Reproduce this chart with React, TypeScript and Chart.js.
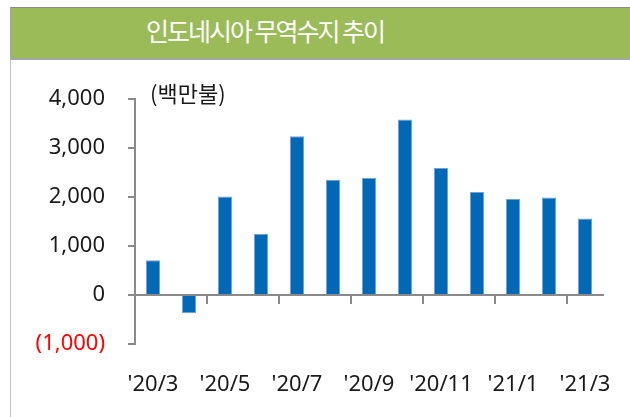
import React, { useEffect, useRef } from "react";
import { Chart, registerables } from "chart.js";

Chart.register(...registerables);

const categories = ["'20/3", "'20/4", "'20/5", "'20/6", "'20/7", "'20/8", "'20/9", "'20/10", "'20/11", "'20/12", "'21/1", "'21/2", "'21/3"];
const tradeBalance = [710, -370, 2010, 1250, 3240, 2350, 2390, 3580, 2590, 2100, 1960, 1990, 1560];
const yTicks = [-1000, 0, 1000, 2000, 3000, 4000];
const title = "인도네시아 무역수지 추이";
const unitLabel = "(백만불)";

const AXIS = "#8a8a8a";
const TEXT = "#1a1a1a";

export default function App() {
  const ref = useRef<HTMLCanvasElement | null>(null);

  useEffect(() => {
    if (!ref.current) return;
    const chart = new Chart(ref.current, {
      type: "bar",
      data: {
        labels: categories,
        datasets: [
          {
            data: tradeBalance,
            backgroundColor: "#0068b4",
            borderColor: "#6fa3d6",
            borderWidth: 1,
            barPercentage: 0.4,
            categoryPercentage: 1,
          },
        ],
      },
      options: {
        animation: false,
        responsive: false,
        devicePixelRatio: 1,
        layout: { padding: { left: 0, top: 99, right: 27, bottom: 73 } },
        plugins: { legend: { display: false }, tooltip: { enabled: false }, title: { display: false } },
        scales: {
          x: {
            type: "category",
            position: { y: 0 } as any,
            offset: true,
            afterFit: (scale: any) => {
              scale.paddingLeft = 0;
              scale.paddingRight = 0;
              scale.paddingTop = 0;
              scale.paddingBottom = 0;
            },
            grid: {
              offset: true,
              drawOnChartArea: false,
              drawTicks: true,
              tickLength: 8,
              lineWidth: 2,
              color: (ctx: any) =>
                ctx.index !== undefined && ctx.index > 0 && ctx.index % 2 === 0 ? AXIS : "rgba(0,0,0,0)",
            },
            border: { display: true, color: AXIS, width: 2 },
            ticks: {
              autoSkip: false,
              maxRotation: 0,
              minRotation: 0,
              padding: 69,
              color: TEXT,
              font: { family: "'Noto Sans', sans-serif", size: 22 },
              callback: (_v: any, i: number) => (i % 2 === 0 ? categories[i] : ""),
            },
          },
          y: {
            min: yTicks[0],
            max: yTicks[yTicks.length - 1],
            afterBuildTicks: (scale: any) => {
              scale.ticks = yTicks.map((v) => ({ value: v }));
            },
            afterFit: (scale: any) => {
              scale.width = 135;
            },
            grid: {
              drawOnChartArea: false,
              drawTicks: true,
              tickLength: 7,
              lineWidth: 2,
              color: AXIS,
            },
            border: { display: true, color: AXIS, width: 2 },
            ticks: {
              padding: 23,
              color: (ctx: any) => (ctx.tick && ctx.tick.value < 0 ? "#ff0000" : TEXT),
              font: { family: "'Noto Sans', sans-serif", size: 22 },
              callback: (v: any) => {
                const n = Number(v);
                const s = Math.abs(n).toLocaleString("en-US");
                return n < 0 ? `(${s})` : s;
              },
            },
          },
        },
      },
    });
    return () => chart.destroy();
  }, []);

  return (
    <div
      style={{
        position: "fixed",
        left: 0,
        top: 0,
        width: 630,
        height: 417,
        background: "#ffffff",
        overflow: "hidden",
      }}
    >
      <div
        style={{
          position: "absolute",
          left: 10,
          top: 7,
          width: 650,
          height: 50,
          background: "#9bbb59",
          borderTop: "1px solid #8c8c8c",
          borderLeft: "1px solid #a6a6a6",
          borderBottom: "2px solid #a6a6a6",
        }}
      />
      <div
        style={{
          position: "absolute",
          left: 10,
          top: 59,
          width: 1,
          height: 360,
          background: "#bfbfbf",
        }}
      />
      <div
        style={{
          position: "absolute",
          left: 10,
          top: 12,
          width: 510,
          textAlign: "center",
          color: "#ffffff",
          fontFamily: "'Noto Sans CJK KR', 'Noto Sans KR', sans-serif",
          fontSize: 25,
          fontWeight: 400,
          lineHeight: "36px",
          letterSpacing: -2,
        }}
      >
        {title}
      </div>
      <canvas ref={ref} width={630} height={417} style={{ position: "absolute", left: 0, top: 0 }} />
      <div
        style={{
          position: "absolute",
          left: 150,
          top: 77,
          color: TEXT,
          fontFamily: "'Noto Sans CJK KR', sans-serif",
          fontSize: 22,
          lineHeight: "30px",
          letterSpacing: 0,
        }}
      >
        {unitLabel}
      </div>
    </div>
  );
}
